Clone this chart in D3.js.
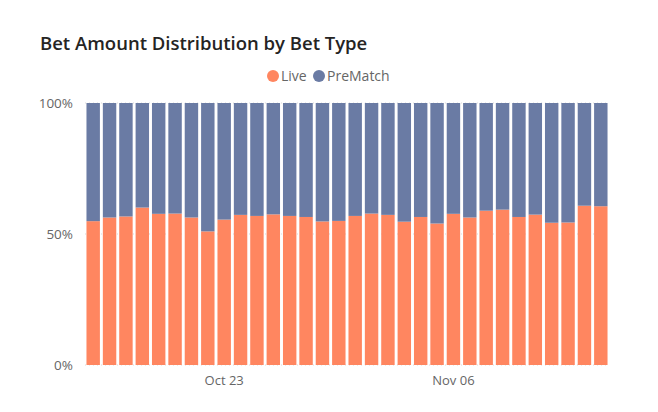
<!DOCTYPE html>
<html lang="en">
<head>
  <meta charset="UTF-8" />
  <script src="https://d3js.org/d3.v7.min.js"></script>
  <title>Bet Amount Distribution by Bet Type</title>
  <style>
    body { margin: 0; background: #fff; }
    text { font-family: "Open Sans", "Segoe UI", sans-serif; }
  </style>
</head>
<body>
<script type="text/javascript">
	var width = 658; var height = 412;

	// one bar per day, Oct 15 .. Nov 15
	var days = ["2023-10-15","2023-10-16","2023-10-17","2023-10-18","2023-10-19","2023-10-20","2023-10-21","2023-10-22",
		"2023-10-23","2023-10-24","2023-10-25","2023-10-26","2023-10-27","2023-10-28","2023-10-29","2023-10-30",
		"2023-10-31","2023-11-01","2023-11-02","2023-11-03","2023-11-04","2023-11-05","2023-11-06","2023-11-07",
		"2023-11-08","2023-11-09","2023-11-10","2023-11-11","2023-11-12","2023-11-13","2023-11-14","2023-11-15"];
	// share of bet amount that is Live (PreMatch is the rest)
	var liveShare = [0.549,0.563,0.567,0.601,0.577,0.578,0.563,0.510,
		0.555,0.573,0.569,0.575,0.569,0.565,0.548,0.550,
		0.569,0.578,0.573,0.547,0.565,0.540,0.577,0.563,
		0.589,0.593,0.565,0.574,0.543,0.544,0.608,0.606];
	var preMatchShare = liveShare.map(function(v){ return 1 - v; });
	var seriesNames = ["Live", "PreMatch"];
	var seriesColors = ["#FF8660", "#6A7BA4"];
	var xTickLabels = ["2023-10-23", "2023-11-06"];
	var yTicks = [0, 0.5, 1];

	var margin = {left: 85, right: 49, top: 103, bottom: 47};
	var svg = d3.select("body").append("svg").attr("width", width).attr("height", height);

	svg.append("text").attr("x", 40).attr("y", 50).text("Bet Amount Distribution by Bet Type")
		.attr("font-size", 18.5).attr("font-weight", 600).attr("fill", "#252423");

	var parse = d3.timeParse("%Y-%m-%d");
	var fmt = d3.timeFormat("%b %d");

	var x = d3.scaleBand().domain(days).range([margin.left, width - margin.right]).paddingInner(0.18).paddingOuter(0.09);
	var y = d3.scaleLinear().domain([0, 1]).range([height - margin.bottom, margin.top]);

	// gridlines
	svg.append("g").selectAll("line").data(yTicks).enter().append("line")
		.attr("x1", margin.left).attr("x2", width - margin.right)
		.attr("y1", function(d){ return y(d); }).attr("y2", function(d){ return y(d); })
		.attr("stroke", "#d9d9d9").attr("stroke-dasharray", "1,3");

	var rows = days.map(function(d, i){ return {day: d, Live: liveShare[i], PreMatch: preMatchShare[i]}; });
	var stack = d3.stack().keys(seriesNames)(rows);

	svg.append("g").selectAll("g").data(stack).enter().append("g")
		.attr("fill", function(d, i){ return seriesColors[i]; })
		.selectAll("rect").data(function(d){ return d; }).enter().append("rect")
		.attr("x", function(d){ return x(d.data.day); })
		.attr("width", x.bandwidth())
		.attr("y", function(d){ return y(d[1]); })
		.attr("height", function(d){ return y(d[0]) - y(d[1]); });

	// y axis
	var yAxis = svg.append("g").attr("transform", "translate(" + (margin.left - 9) + ",0)")
		.call(d3.axisLeft(y).tickValues(yTicks).tickFormat(d3.format(".0%")).tickSize(0));
	yAxis.select(".domain").remove();
	yAxis.selectAll("text").attr("font-size", 13.5).attr("fill", "#666").attr("font-family", "Open Sans");

	// x axis
	var xAxis = svg.append("g").attr("transform", "translate(0," + (height - margin.bottom + 8) + ")")
		.call(d3.axisBottom(x).tickValues(xTickLabels).tickFormat(function(d){ return fmt(parse(d)); }).tickSize(0));
	xAxis.select(".domain").remove();
	xAxis.selectAll("text").attr("font-size", 13).attr("fill", "#666").attr("font-family", "Open Sans");

	// legend
	var legend = svg.append("g");
	var lx = [273, 319];
	seriesNames.forEach(function(name, i){
		legend.append("circle").attr("cx", lx[i]).attr("cy", 76).attr("r", 6).attr("fill", seriesColors[i]);
		legend.append("text").attr("x", lx[i] + 8).attr("y", 81).text(name)
			.attr("font-size", 14).attr("fill", "#666");
	});
</script>
</body>
</html>
